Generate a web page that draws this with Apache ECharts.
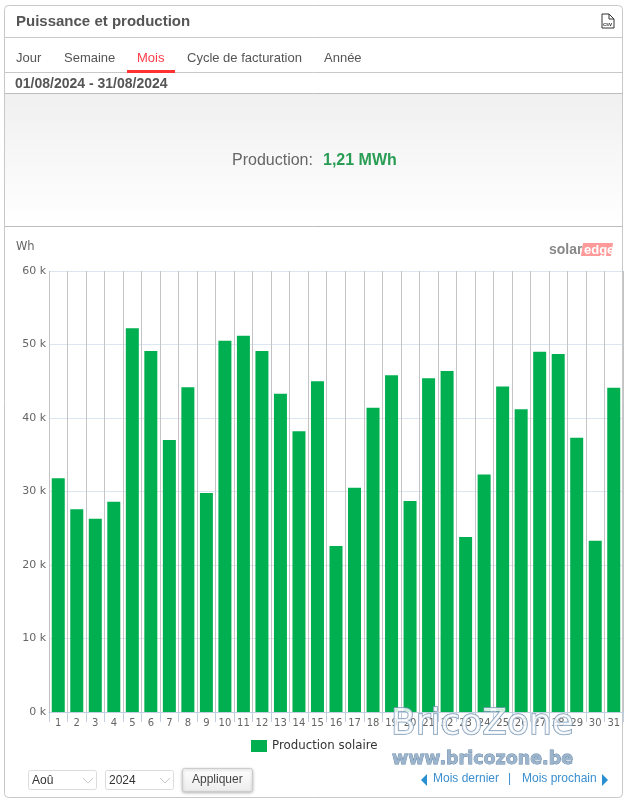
<!DOCTYPE html>
<html>
<head>
<meta charset="utf-8">
<style>html,body{margin:0;padding:0;background:#fff}#c{width:627px;height:802px}</style>
<script src="https://cdn.jsdelivr.net/npm/echarts@6/dist/echarts.min.js"></script>
</head>
<body>
<div id="c"></div>
<script>
// Daily solar production for August 2024, in Wh
const days = ['1','2','3','4','5','6','7','8','9','10','11','12','13','14','15','16','17','18','19','20','21','22','23','24','25','26','27','28','29','30','31'];
const production = [31800,27600,26300,28600,52200,49100,37000,44200,29800,50500,51200,49100,43300,38200,45000,22600,30500,41400,45800,28700,45400,46400,23800,32300,44300,41200,49000,48700,37300,23300,44100];
const tabs = ['Jour','Semaine','Mois','Cycle de facturation','Année'];
const tabX = [16,64,137,187,324];
const seriesName = 'Production solaire';

const ARIAL = 'Arial, "Liberation Sans", sans-serif';
const VERDANA = '"DejaVu Sans", Verdana, sans-serif';

function txt(x, y, text, size, fill, extra) {
  return {type:'text', z:10, x, y, style:Object.assign({text, fontSize:size, fill, fontFamily:ARIAL, verticalAlign:'middle'}, extra||{})};
}
function box(x, y, w, h, fill, stroke, r) {
  return {type:'rect', z:1, shape:{x:x+0.5,y:y+0.5,width:w,height:h,r:r||0}, style:{fill:fill||'none', stroke:stroke||'none', lineWidth:1}};
}
function hline(x1, x2, y, color) {
  return {type:'line', z:2, shape:{x1,y1:y+0.5,x2,y2:y+0.5}, style:{stroke:color,lineWidth:1}};
}
function chevron(x, y) {
  return {type:'polyline', z:3, shape:{points:[[x,y],[x+5,y+5],[x+10,y]]}, style:{stroke:'#c8c8c8',lineWidth:1,fill:'none'}};
}
function tri(points, color) {
  return {type:'polygon', z:3, shape:{points}, style:{fill:color}};
}

const chrome = [
  box(4,5,618,792,'none','#c8c8c8',4),
  hline(5,622,37,'#c8c8c8'),
  hline(5,622,72,'#c8c8c8'),
  hline(5,622,93,'#bdbdbd'),
  {type:'rect', z:1, shape:{x:5,y:94,width:617,height:132}, style:{fill:{type:'linear',x:0,y:0,x2:0,y2:1,colorStops:[{offset:0,color:'#f0f0f0'},{offset:1,color:'#ffffff'}]}}},
  hline(5,622,226,'#bdbdbd'),
  txt(16,22,'Puissance et production',15,'#555',{fontWeight:'bold'}),
  txt(15,84,'01/08/2024 - 31/08/2024',14,'#555',{fontWeight:'bold'}),
  {type:'rect', z:3, shape:{x:127,y:70,width:48,height:3}, style:{fill:'#ff3333'}},
  // CSV file icon
  {type:'polyline', z:3, shape:{points:[[602,14],[609,14],[614,19],[614,28],[602,28],[602,14]]}, style:{stroke:'#333',fill:'#fff',lineWidth:1}},
  {type:'polyline', z:3, shape:{points:[[609,14],[609,19],[614,19]]}, style:{stroke:'#333',fill:'none',lineWidth:1}},
  txt(603,24,'csv',5.5,'#333',{fontWeight:'bold'}),
  txt(232,161,'Production:',16,'#666'),
  txt(323,161,'1,21 MWh',16,'#2a9d55',{fontWeight:'bold'}),
  txt(16,247,'Wh',11.5,'#666',{fontFamily:VERDANA}),
  // vendor logo
  txt(549,250,'solar',14,'#888',{fontWeight:'bold'}),
  tri([[583,243],[613,243],[611,256],[581,256]],'#ff9a9a'),
  txt(584,250,'edge',13,'#fff',{fontWeight:'bold'}),
  // month and year pickers
  box(28,770,68,19,'#fff','#dcdcdc',2),
  txt(32,780.5,'Aoû',12,'#333'),
  chevron(83,778),
  box(105,770,68,19,'#fff','#dcdcdc',2),
  txt(109,780.5,'2024',12,'#333'),
  chevron(160,778),
  {type:'rect', z:2, shape:{x:182.5,y:768.5,width:70,height:23,r:2}, style:{fill:{type:'linear',x:0,y:0,x2:0,y2:1,colorStops:[{offset:0,color:'#ffffff'},{offset:1,color:'#ececec'}]},stroke:'#ccc',lineWidth:1,shadowBlur:3,shadowColor:'rgba(0,0,0,0.25)',shadowOffsetY:1}},
  txt(192,779.5,'Appliquer',12,'#444'),
  // previous and next month links
  tri([[427,774],[427,786],[421,780]],'#2a8fd0'),
  txt(433,779,'Mois dernier',12,'#3a8fd0'),
  txt(508,779,'|',12,'#3a8fd0'),
  txt(522,779,'Mois prochain',12,'#3a8fd0'),
  tri([[602,774],[602,786],[608,780]],'#2a8fd0'),
  // site watermark
  txt(391,725,'BricoZone',36,'rgba(255,255,255,0.8)',{stroke:'#7f9cb8',lineWidth:1.5,fontFamily:VERDANA}),
  txt(392,759,'www.bricozone.be',17.5,'#9db5cc',{stroke:'#5f83a6',lineWidth:0.8,fontWeight:'bold',fontFamily:VERDANA})
];
tabs.forEach((t,i) => chrome.push(txt(tabX[i],58,t,13,i===2?'#ff3b47':'#555')));

const chart = echarts.init(document.getElementById('c'), null, {renderer:'canvas'});
chart.setOption({
  animation:false,
  backgroundColor:'#fff',
  grid:{left:49,top:271,width:574,height:441,containLabel:false},
  legend:{
    data:[seriesName], left:251, top:740, padding:0, icon:'rect', itemWidth:16, itemHeight:12, itemGap:5, z:20,
    textStyle:{fontFamily:VERDANA,fontSize:11.8,color:'#333'}
  },
  xAxis:{
    type:'category', data:days, z:1,
    axisLine:{show:true,lineStyle:{color:'#c0d0e0',width:1}},
    axisTick:{show:true,length:10,alignWithLabel:false,lineStyle:{color:'#c0d0e0'}},
    axisLabel:{interval:0,margin:6,fontSize:10,color:'#666',fontFamily:VERDANA},
    splitLine:{show:true,interval:0,lineStyle:{color:'#c4c4c4',width:1}}
  },
  yAxis:{
    type:'value', min:0, max:60000, interval:10000,
    axisLine:{show:false}, axisTick:{show:false},
    axisLabel:{margin:3,fontSize:11,color:'#666',fontFamily:VERDANA,formatter:v => (v/1000)+' k'},
    splitLine:{show:true,lineStyle:{color:'#dbe6f0',width:1}}
  },
  series:[{
    name:seriesName, type:'bar', data:production, barWidth:13, z:3,
    itemStyle:{color:'#00b050'}
  }],
  graphic:{elements:chrome}
});
</script>
</body>
</html>
